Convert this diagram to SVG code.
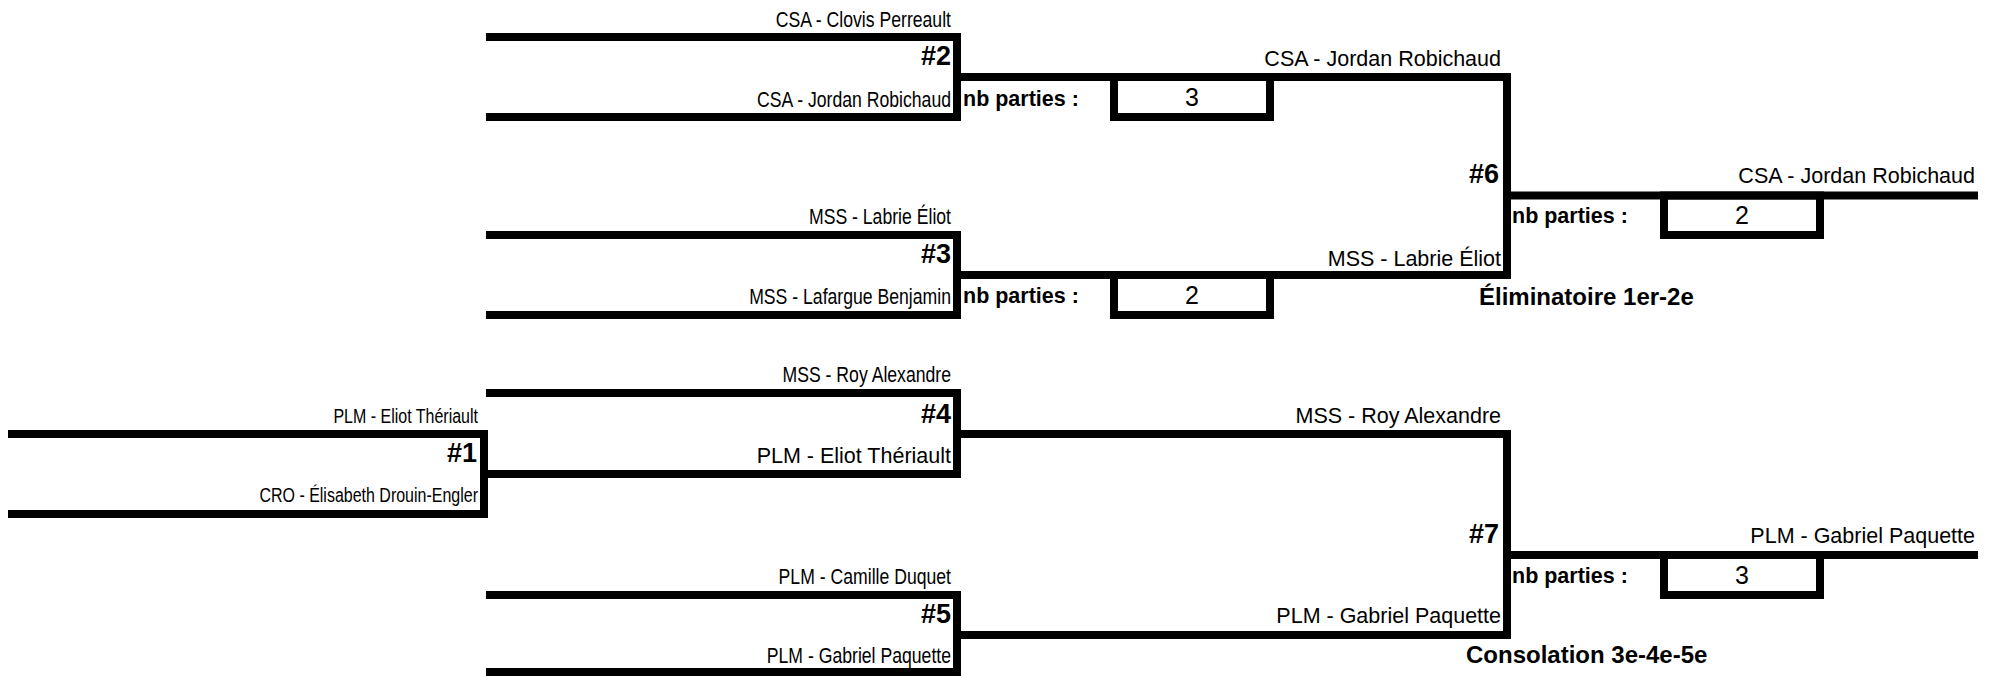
<svg xmlns="http://www.w3.org/2000/svg" width="1998" height="677" viewBox="0 0 1998 677">
<style>
text{font-family:"Liberation Sans",Arial,Helvetica,sans-serif;fill:#000}
.n{font-size:21.5px;text-anchor:end}
.nr{font-size:21.5px;text-anchor:end}
.s{font-size:19.5px;text-anchor:end}
.num{font-size:27px;font-weight:bold;text-anchor:end}
.nb{font-size:21.5px;font-weight:bold}
.sc{font-size:25px;text-anchor:middle}
.ttl{font-size:24px;font-weight:bold}
.ln{fill:none;stroke:#000;stroke-width:8;stroke-linejoin:miter;stroke-linecap:butt}
</style>
<rect x="0" y="0" width="1998" height="677" fill="#fff"/>
<g id="connectors" class="ln">
<path d="M8 434H484V514H8"/>
<path d="M486 37H957V117H486"/>
<path d="M486 235H957V315H486"/>
<path d="M486 393H957V474H480"/>
<path d="M486 595H957V672H486"/>
<path d="M953 77H1507V275H953"/>
<path d="M953 434H1507V635H953"/>
<path d="M1503 195.5H1978"/>
<path d="M1503 555H1978"/>
</g>
<g id="match-1">
<text class="s" transform="translate(478,423) scale(0.82,1)">PLM - Eliot Thériault</text>
<text class="num" x="477" y="462">#1</text>
<text class="s" transform="translate(478,502) scale(0.82,1)">CRO - Élisabeth Drouin-Engler</text>
</g>
<g id="match-2">
<text class="n" transform="translate(951,27) scale(0.82,1)">CSA - Clovis Perreault</text>
<text class="num" x="951" y="65">#2</text>
<text class="n" transform="translate(951,107) scale(0.82,1)">CSA - Jordan Robichaud</text>
<text class="nb" x="963" y="106">nb parties :</text>
<rect class="ln" x="1114" y="77" width="156" height="40"/>
<text class="sc" x="1192" y="106">3</text>
</g>
<g id="match-3">
<text class="n" transform="translate(951,224) scale(0.82,1)">MSS - Labrie Éliot</text>
<text class="num" x="951" y="263">#3</text>
<text class="n" transform="translate(951,304) scale(0.82,1)">MSS - Lafargue Benjamin</text>
<text class="nb" x="963" y="303">nb parties :</text>
<rect class="ln" x="1114" y="275" width="156" height="40"/>
<text class="sc" x="1192" y="304">2</text>
</g>
<g id="match-4">
<text class="n" transform="translate(951,382) scale(0.82,1)">MSS - Roy Alexandre</text>
<text class="num" x="951" y="423">#4</text>
<text class="nr" x="951" y="463">PLM - Eliot Thériault</text>
</g>
<g id="match-5">
<text class="n" transform="translate(951,584) scale(0.82,1)">PLM - Camille Duquet</text>
<text class="num" x="951" y="623">#5</text>
<text class="n" transform="translate(951,663) scale(0.82,1)">PLM - Gabriel Paquette</text>
</g>
<g id="match-6">
<text class="nr" x="1501" y="66">CSA - Jordan Robichaud</text>
<text class="num" x="1499" y="183">#6</text>
<text class="nr" x="1501" y="266">MSS - Labrie Éliot</text>
<text class="nb" x="1512" y="223">nb parties :</text>
<rect class="ln" x="1664" y="195.5" width="156" height="39.5"/>
<text class="sc" x="1742" y="224">2</text>
<text class="nr" x="1975" y="183">CSA - Jordan Robichaud</text>
<text class="ttl" x="1479" y="305">Éliminatoire 1er-2e</text>
</g>
<g id="match-7">
<text class="nr" x="1501" y="423">MSS - Roy Alexandre</text>
<text class="num" x="1499" y="543">#7</text>
<text class="nr" x="1501" y="623">PLM - Gabriel Paquette</text>
<text class="nb" x="1512" y="583">nb parties :</text>
<rect class="ln" x="1664" y="555" width="156" height="40"/>
<text class="sc" x="1742" y="584">3</text>
<text class="nr" x="1975" y="543">PLM - Gabriel Paquette</text>
<text class="ttl" x="1466" y="663">Consolation 3e-4e-5e</text>
</g>
</svg>
